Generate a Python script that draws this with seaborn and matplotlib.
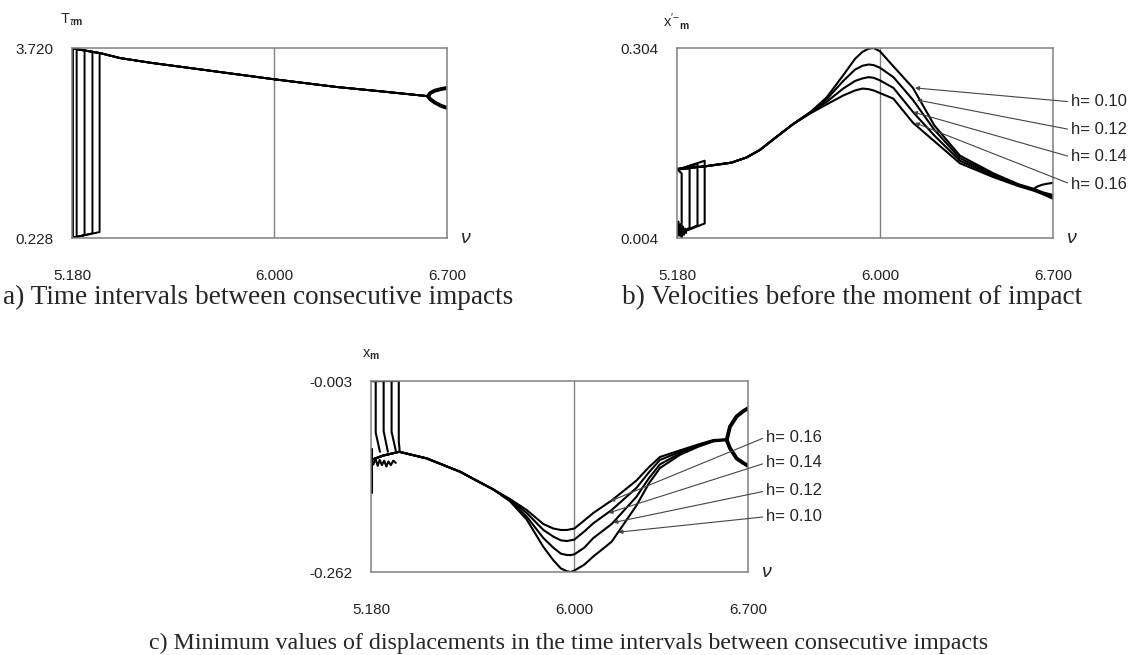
import matplotlib
matplotlib.use('Agg')
import matplotlib.pyplot as plt
import seaborn as sns
import pandas as pd

# ---------------- data ----------------
h_vals = [0.10, 0.12, 0.14, 0.16]
nu_jump = [5.292, 5.263, 5.231, 5.199]

# a) time intervals T_tm
a_left_top, a_left_bot = 3.715, 0.232
a_loop_top = [3.628, 3.652, 3.674, 3.696]
a_loop_bot = [0.338, 0.314, 0.283, 0.255]
a_main_nu = [5.30, 5.375, 5.50, 5.70, 6.00, 6.25, 6.43, 6.623]
a_main_T = [3.620, 3.535, 3.448, 3.327, 3.145, 3.005, 2.925, 2.835]
a_fork_nu = [6.623, 6.632, 6.65, 6.675, 6.70]
a_fork_up = [2.835, 2.89, 2.935, 2.965, 2.985]
a_fork_lo = [2.835, 2.78, 2.72, 2.66, 2.62]

# b) velocities before impact
b_left_top, b_left_bot = 0.112, 0.010
b_loop_top = [0.126, 0.121, 0.114, 0.106]
b_loop_bot = [0.027, 0.024, 0.020, 0.017]
nu_b = [5.181, 5.29, 5.40, 5.46, 5.515, 5.58, 5.65, 5.72, 5.785, 5.852, 5.90, 5.93,
        5.955, 5.975, 6.00, 6.055, 6.134, 6.22, 6.324, 6.46, 6.56, 6.62, 6.66, 6.70]
b_h010 = [0.113, 0.117, 0.123, 0.131, 0.143, 0.163, 0.184, 0.203, 0.226, 0.261, 0.287,
          0.298, 0.303, 0.304, 0.299, 0.275, 0.241, 0.182, 0.134, 0.106, 0.089, 0.082,
          0.076, 0.072]
b_h012 = [0.113, 0.117, 0.123, 0.131, 0.143, 0.163, 0.184, 0.203, 0.223, 0.252, 0.270,
          0.276, 0.278, 0.277, 0.273, 0.258, 0.222, 0.175, 0.130, 0.104, 0.088, 0.081,
          0.075, 0.070]
b_h014 = [0.113, 0.117, 0.123, 0.131, 0.143, 0.163, 0.184, 0.202, 0.219, 0.240, 0.252,
          0.256, 0.258, 0.257, 0.253, 0.241, 0.203, 0.166, 0.126, 0.102, 0.087, 0.080,
          0.074, 0.068]
b_h016 = [0.113, 0.117, 0.123, 0.131, 0.143, 0.163, 0.184, 0.201, 0.215, 0.229, 0.237,
          0.240, 0.239, 0.237, 0.233, 0.224, 0.186, 0.157, 0.122, 0.100, 0.086, 0.079,
          0.073, 0.066]
b_noise_nu = [5.181, 5.186, 5.19, 5.195, 5.199, 5.204, 5.208, 5.212, 5.217]
b_noise_v = [0.006, 0.030, 0.008, 0.026, 0.005, 0.022, 0.009, 0.019, 0.012]
b_fork_nu = [6.62, 6.635, 6.655, 6.68, 6.70]
b_fork_up = [0.081, 0.085, 0.088, 0.090, 0.091]
b_tip_nu = [6.142, 6.150, 6.134, 6.142]
b_tip_v = [0.241, 0.222, 0.203, 0.186]
b_lab_v = [0.219, 0.175, 0.132, 0.089]

# c) minimum displacements
c_bend = [-0.085, -0.072, -0.071, -0.073]
c_join_nu = [5.296, 5.281, 5.248, 5.216]
nu_c = [5.181, 5.23, 5.294, 5.405, 5.539, 5.60, 5.673, 5.74, 5.808, 5.875, 5.915, 5.945,
        5.97, 5.985, 6.00, 6.04, 6.076, 6.15, 6.25, 6.30, 6.345, 6.426, 6.50, 6.56, 6.614]
c_h010 = [-0.110, -0.104, -0.099, -0.108, -0.126, -0.137, -0.150, -0.166, -0.191, -0.228,
          -0.246, -0.257, -0.261, -0.262, -0.260, -0.252, -0.241, -0.221, -0.172, -0.142,
          -0.121, -0.103, -0.092, -0.085, -0.083]
c_h012 = [-0.110, -0.104, -0.099, -0.108, -0.126, -0.137, -0.150, -0.165, -0.187, -0.216,
          -0.229, -0.237, -0.239, -0.239, -0.238, -0.229, -0.216, -0.197, -0.160, -0.135,
          -0.116, -0.101, -0.091, -0.084, -0.083]
c_h014 = [-0.110, -0.104, -0.099, -0.108, -0.126, -0.137, -0.150, -0.164, -0.182, -0.205,
          -0.214, -0.219, -0.220, -0.219, -0.218, -0.207, -0.196, -0.178, -0.148, -0.127,
          -0.110, -0.099, -0.090, -0.084, -0.082]
c_h016 = [-0.110, -0.104, -0.099, -0.108, -0.126, -0.137, -0.150, -0.163, -0.178, -0.197,
          -0.203, -0.205, -0.205, -0.204, -0.203, -0.192, -0.182, -0.165, -0.138, -0.120,
          -0.106, -0.097, -0.089, -0.083, -0.082]
c_noise_nu = [5.181, 5.19, 5.198, 5.207, 5.215, 5.224, 5.233, 5.242, 5.25, 5.26, 5.27, 5.28]
c_noise_v = [-0.110, -0.116, -0.108, -0.118, -0.110, -0.117, -0.111, -0.119, -0.112,
             -0.117, -0.111, -0.114]
c_spike_nu = [5.183, 5.183]
c_spike_v = [-0.095, -0.155]
c_fork_nu = [6.614, 6.627, 6.654, 6.68, 6.70]
c_fork_up = [-0.083, -0.065, -0.051, -0.044, -0.040]
c_fork_lo = [-0.083, -0.094, -0.108, -0.114, -0.118]
c_tip_nu = [6.177, 6.157, 6.137, 6.144]
c_tip_v = [-0.208, -0.195, -0.182, -0.166]
c_lab_v = [-0.187, -0.152, -0.114, -0.079]

b_curves = [b_h010, b_h012, b_h014, b_h016]
c_curves = [c_h010, c_h012, c_h014, c_h016]


def pieces_to_df(pieces):
    rows = []
    for k, (xs, ys) in enumerate(pieces):
        for x, y in zip(xs, ys):
            rows.append((k, x, y))
    return pd.DataFrame(rows, columns=['piece', 'nu', 'val'])


def draw(ax, pieces, lw):
    df = pieces_to_df(pieces)
    sns.lineplot(data=df, x='nu', y='val', units='piece', estimator=None, sort=False,
                 color='black', lw=lw, ax=ax, legend=False)


def style_axes(ax, ylim, ylabels, ylabel, lab_y):
    ax.set_xlim(5.18, 6.70)
    ax.set_ylim(*ylim)
    ax.set_xticks([5.18, 6.0, 6.7], ['5.180', '6.000', '6.700'])
    ax.set_yticks(list(ylim), ylabels)
    ax.tick_params(length=0, labelsize=11, colors='#222222')
    ax.tick_params(axis='x', pad=22)
    ax.tick_params(axis='y', pad=13)
    for s in ax.spines.values():
        s.set_visible(True)
        s.set_color('#808080')
        s.set_linewidth(1.1)
    ax.axvline(6.0, color='#808080', lw=1.0, zorder=0)
    ax.set_xlabel(r'$\nu$', fontsize=14)
    ax.xaxis.label.set_va('center')
    ax.xaxis.set_label_coords(1.05, -0.005)
    ax.set_ylabel(ylabel, fontsize=10.5, rotation=0, ha='center', va='center')
    ax.yaxis.set_label_coords(0.0, lab_y)


def add_labels(ax, tips_nu, tips_v, lab_v):
    for h, tx, ty, ly in zip(h_vals, tips_nu, tips_v, lab_v):
        ax.annotate(f'h= {h:.2f}', xy=(tx, ty), xytext=(6.772, ly), textcoords='data',
                    fontsize=12, ha='left', va='center', annotation_clip=False,
                    arrowprops=dict(arrowstyle='-|>', lw=0.8, color='#444444',
                                    mutation_scale=6, shrinkA=0, shrinkB=0,
                                    relpos=(0, 0.5)))


sns.set_theme(style='white')
plt.rcParams['font.family'] = ['Liberation Sans', 'DejaVu Sans']
plt.rcParams['mathtext.fontset'] = 'custom'
plt.rcParams['mathtext.rm'] = 'Liberation Sans'
plt.rcParams['mathtext.it'] = 'Liberation Sans:italic'
plt.rcParams['mathtext.bf'] = 'Liberation Sans:bold'

fig = plt.figure(figsize=(11.37, 6.55), dpi=100)
ax_a = fig.add_axes([0.0633, 0.6366, 0.3298, 0.2901])
ax_b = fig.add_axes([0.5954, 0.6366, 0.3307, 0.2901])
ax_c = fig.add_axes([0.3263, 0.1267, 0.3316, 0.2916])

# ---- panel a ----
pieces = []
for i in range(4):
    pieces.append(([5.182, nu_jump[i], nu_jump[i], 5.182, 5.182],
                   [a_left_top, a_loop_top[i], a_loop_bot[i], a_left_bot, a_left_top]))
    pieces.append(([nu_jump[i]] + a_main_nu, [a_loop_top[i]] + a_main_T))
draw(ax_a, pieces, 1.4)
draw(ax_a, [(a_fork_nu, a_fork_up), (a_fork_nu, a_fork_lo)], 2.8)
style_axes(ax_a, (0.228, 3.720), ['0.228', '3.720'],
           r'$\mathrm{T}_{\tau\mathbf{m}}$', 1.147)

# ---- panel b ----
pieces = []
for i in range(4):
    pieces.append(([5.182, nu_jump[i], nu_jump[i], 5.182],
                   [b_left_bot, b_loop_bot[i], b_loop_top[i], b_left_top]))
    pieces.append((nu_b, b_curves[i]))
pieces.append((b_noise_nu, b_noise_v))
pieces.append((b_fork_nu, b_fork_up))
draw(ax_b, pieces, 1.5)
style_axes(ax_b, (0.004, 0.304), ['0.004', '0.304'],
           r"$\mathrm{x}'^{-}{}_{\mathbf{m}}$", 1.142)
add_labels(ax_b, b_tip_nu, b_tip_v, b_lab_v)

# ---- panel c ----
pieces = []
for i in range(4):
    pieces.append(([5.182, nu_jump[i], nu_jump[i], c_join_nu[i]],
                   [-0.003, -0.003, c_bend[i], -0.099]))
    pieces.append((nu_c, c_curves[i]))
pieces.append((c_noise_nu, c_noise_v))
pieces.append((c_spike_nu, c_spike_v))
draw(ax_c, pieces, 1.5)
draw(ax_c, [(c_fork_nu, c_fork_up), (c_fork_nu, c_fork_lo)], 2.8)
style_axes(ax_c, (-0.262, -0.003), ['-0.262', '-0.003'],
           r'$\mathrm{x}_{\mathbf{m}}$', 1.136)
add_labels(ax_c, c_tip_nu, c_tip_v, c_lab_v)

# ---- captions ----
cap = dict(family=['Liberation Serif', 'DejaVu Serif'], va='center')
fig.text(3 / 1137, 1 - 297 / 655, 'a) Time intervals between consecutive impacts',
         ha='left', fontsize=19.6, **cap)
fig.text(622 / 1137, 1 - 297 / 655, 'b) Velocities before the moment of impact',
         ha='left', fontsize=19.6, **cap)
fig.text(569 / 1137, 1 - 643 / 655,
         'c) Minimum values of displacements in the time intervals between consecutive impacts',
         ha='center', fontsize=17.3, **cap)

fig.savefig('out.png', dpi=100)
